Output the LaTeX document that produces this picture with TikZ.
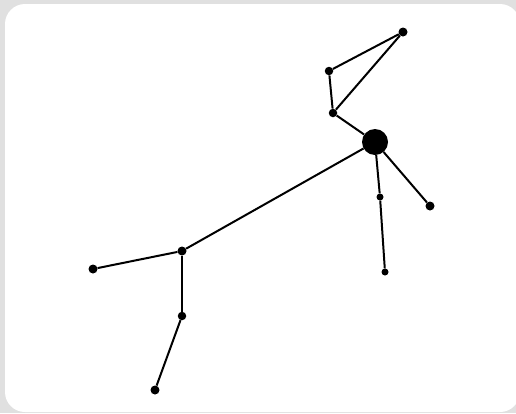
\documentclass[tikz,border=0pt]{standalone}
\definecolor{bggray}{HTML}{E0E0E0}
\begin{document}
\begin{tikzpicture}[x=1pt,y=-1pt,
  dot/.style={circle,fill=black,inner sep=0pt,minimum size=#1},
  dot/.default=9pt,
  edge/.style={line width=2pt,black}]
\fill[bggray] (0,0) rectangle (516,413);
\useasboundingbox (0,0) rectangle (516,413);
\fill[white,rounded corners=20pt] (5,4) rectangle (520,412);
\node[dot=26pt] (A) at (375,142) {};
\node[dot=9pt] (B) at (403,32) {};
\node[dot=8.5pt] (C) at (329,71) {};
\node[dot=8.5pt] (D) at (333,113) {};
\node[dot=7pt] (E) at (380,197) {};
\node[dot=9pt] (F) at (430,206) {};
\node[dot=7pt] (G) at (385,272) {};
\node[dot=9pt] (H) at (182,251) {};
\node[dot=9pt] (I) at (93,269) {};
\node[dot=8.5pt] (J) at (182,316) {};
\node[dot=9pt] (K) at (155,390) {};
\draw[edge] (B) -- (C);
\draw[edge] (B) -- (D);
\draw[edge] (C) -- (D);
\draw[edge] (D) -- (A);
\draw[edge] (A) -- (H);
\draw[edge] (A) -- (E);
\draw[edge] (E) -- (G);
\draw[edge] (A) -- (F);
\draw[edge] (H) -- (I);
\draw[edge] (H) -- (J);
\draw[edge] (J) -- (K);
\end{tikzpicture}
\end{document}
